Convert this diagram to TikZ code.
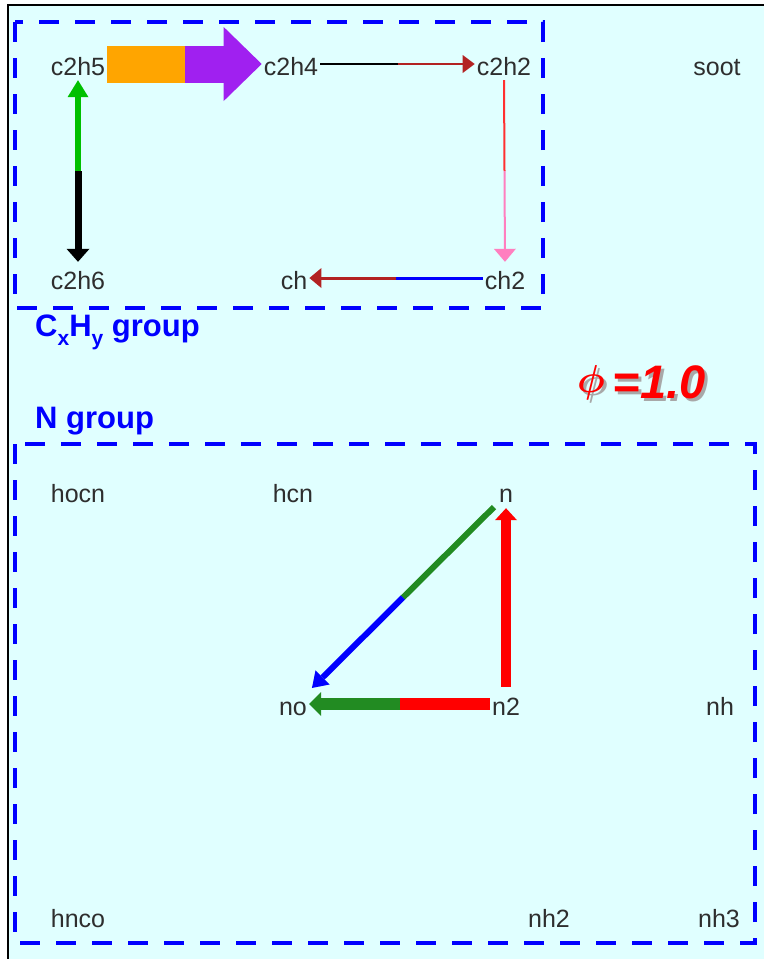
\documentclass[tikz,border=0pt]{standalone}
\usepackage{graphicx}
\usepackage{fontspec}
\setmainfont{Liberation Sans}
\usetikzlibrary{arrows.meta,calc}
\definecolor{bgcyan}{HTML}{E0FFFF}
\definecolor{lblgray}{HTML}{2E2E2E}
\definecolor{grpblue}{HTML}{0000FF}
\definecolor{arrorange}{HTML}{FFA500}
\definecolor{arrpurple}{HTML}{A020F0}
\definecolor{brick}{HTML}{B22222}
\definecolor{lgreen}{HTML}{00C000}
\definecolor{pinkish}{HTML}{FF7FBF}
\definecolor{dgreen}{HTML}{228B22}
\definecolor{lred}{HTML}{FF3030}
\definecolor{shadowgray}{HTML}{A8A8A8}
\newcommand\phisym{\raisebox{6pt}{\scalebox{3.9}{\fontsize{10}{10}\selectfont\boldmath$\phi$}}\kern8pt}
\begin{document}
\begin{tikzpicture}[x=1pt,y=-1pt,
  spc/.style={font={\fontsize{25}{25}\selectfont}, text=lblgray, anchor=base,
    text height=22pt, text depth=0pt, inner sep=2pt},
  grp/.style={draw=grpblue, line width=4pt, dash pattern=on 20pt off 16pt},
  grplabel/.style={font={\fontsize{31}{31}\selectfont\bfseries}, text=grpblue,
    anchor=base west, inner sep=0pt},
  phitxt/.style={font={\fontsize{47}{47}\selectfont\bfseries\itshape},
    anchor=base west, inner sep=0pt}]
  \useasboundingbox (0,0) rectangle (764,959);
  % background and frame
  \fill[bgcyan] (8,5) rectangle (764,959);
  \draw[line width=2pt] (8,959) -- (8,5) -- (764,5);
  % group boxes
  \draw[grp] (15,22) rectangle (543,308);
  \draw[grp] (15,444) rectangle (755,943);
  \node[grplabel] (cxhy) at (35,336) {C\raisebox{-9pt}{\fontsize{21}{21}\selectfont x}H\raisebox{-9pt}{\fontsize{21}{21}\selectfont y} group};
  \node[grplabel] (ngrp) at (35,428) {N group};
  % equivalence ratio
  \node[phitxt, text=shadowgray] (phishadow) at (580,401) {\phisym=1.0};
  \node[phitxt, text=red] (phi) at (577,398) {\phisym=1.0};
  % species, CxHy group
  \node[spc] (c2h5) at (78,75) {c2h5};
  \node[spc] (c2h4) at (291,75) {c2h4};
  \node[spc] (c2h2) at (504,75) {c2h2};
  \node[spc] (soot) at (717,75) {soot};
  \node[spc] (c2h6) at (78,289) {c2h6};
  \node[spc] (ch) at (294,289) {ch};
  \node[spc] (ch2) at (505,289) {ch2};
  % species, N group
  \node[spc] (hocn) at (78,502) {hocn};
  \node[spc] (hcn) at (293,502) {hcn};
  \node[spc] (n) at (506,502) {n};
  \node[spc] (no) at (293,715) {no};
  \node[spc] (n2) at (506,715) {n2};
  \node[spc] (nh) at (720,715) {nh};
  \node[spc] (hnco) at (78,927) {hnco};
  \node[spc] (nh2) at (549,927) {nh2};
  \node[spc] (nh3) at (719,927) {nh3};
  % c2h5 -> c2h4
  \coordinate (m1) at ($(c2h5.east)!0.5!(c2h4.west)$);
  \draw[arrorange, line width=37pt] (c2h5.east) -- (m1);
  \draw[arrpurple, line width=37pt, -{Triangle[length=38pt,width=74pt,line width=0pt]}] (m1) -- (c2h4.west);
  % c2h4 -> c2h2
  \coordinate (m2) at ($(c2h4.east)!0.5!(c2h2.west)$);
  \draw[black, line width=2.5pt] (c2h4.east) -- (m2);
  \draw[brick, line width=2.5pt, -{Triangle[length=12pt,width=18pt,line width=0pt]}] (m2) -- (c2h2.west);
  % c2h2 -> ch2
  \coordinate (m3) at ($(c2h2.south)!0.5!(ch2.north)$);
  \draw[lred, line width=2pt, shorten <=3pt] (c2h2.south) -- (m3);
  \draw[pinkish, line width=2pt, shorten >=3pt, -{Triangle[length=13pt,width=22pt,line width=0pt]}] (m3) -- (ch2.north);
  % ch2 -> ch
  \coordinate (m4) at ($(ch2.west)!0.5!(ch.east)$);
  \draw[grpblue, line width=3pt] (ch2.west) -- (m4);
  \draw[brick, line width=3pt, -{Triangle[length=12pt,width=20pt,line width=0pt]}] (m4) -- (ch.east);
  % c2h5 <-> c2h6
  \coordinate (m5) at ($(c2h5.south)!0.5!(c2h6.north)$);
  \draw[lgreen, line width=6pt, shorten >=3pt, -{Triangle[length=17pt,width=21pt,line width=0pt]}] (m5) -- (c2h5.south);
  \draw[black, line width=7pt, shorten >=3pt, -{Triangle[length=13pt,width=23pt,line width=0pt]}] (m5) -- (c2h6.north);
  % n -> no
  \coordinate (m6) at ($(n.south west)!0.5!(no.north east)$);
  \draw[dgreen, line width=6pt, shorten <=4pt] (n.south west) -- (m6);
  \draw[grpblue, line width=6pt, shorten >=4pt, -{Triangle[length=15pt,width=20pt,line width=0pt]}] (m6) -- (no.north east);
  % n2 -> n
  \draw[red, line width=10pt, shorten <=4pt, shorten >=4pt, -{Triangle[length=12pt,width=22pt,line width=0pt]}] (n2.north) -- (n.south);
  % n2 -> no
  \coordinate (m7) at ($(n2.west)!0.5!(no.east)$);
  \draw[red, line width=12pt] (n2.west) -- (m7);
  \draw[dgreen, line width=12pt, -{Triangle[length=12pt,width=24pt,line width=0pt]}] (m7) -- (no.east);
\end{tikzpicture}
\end{document}
